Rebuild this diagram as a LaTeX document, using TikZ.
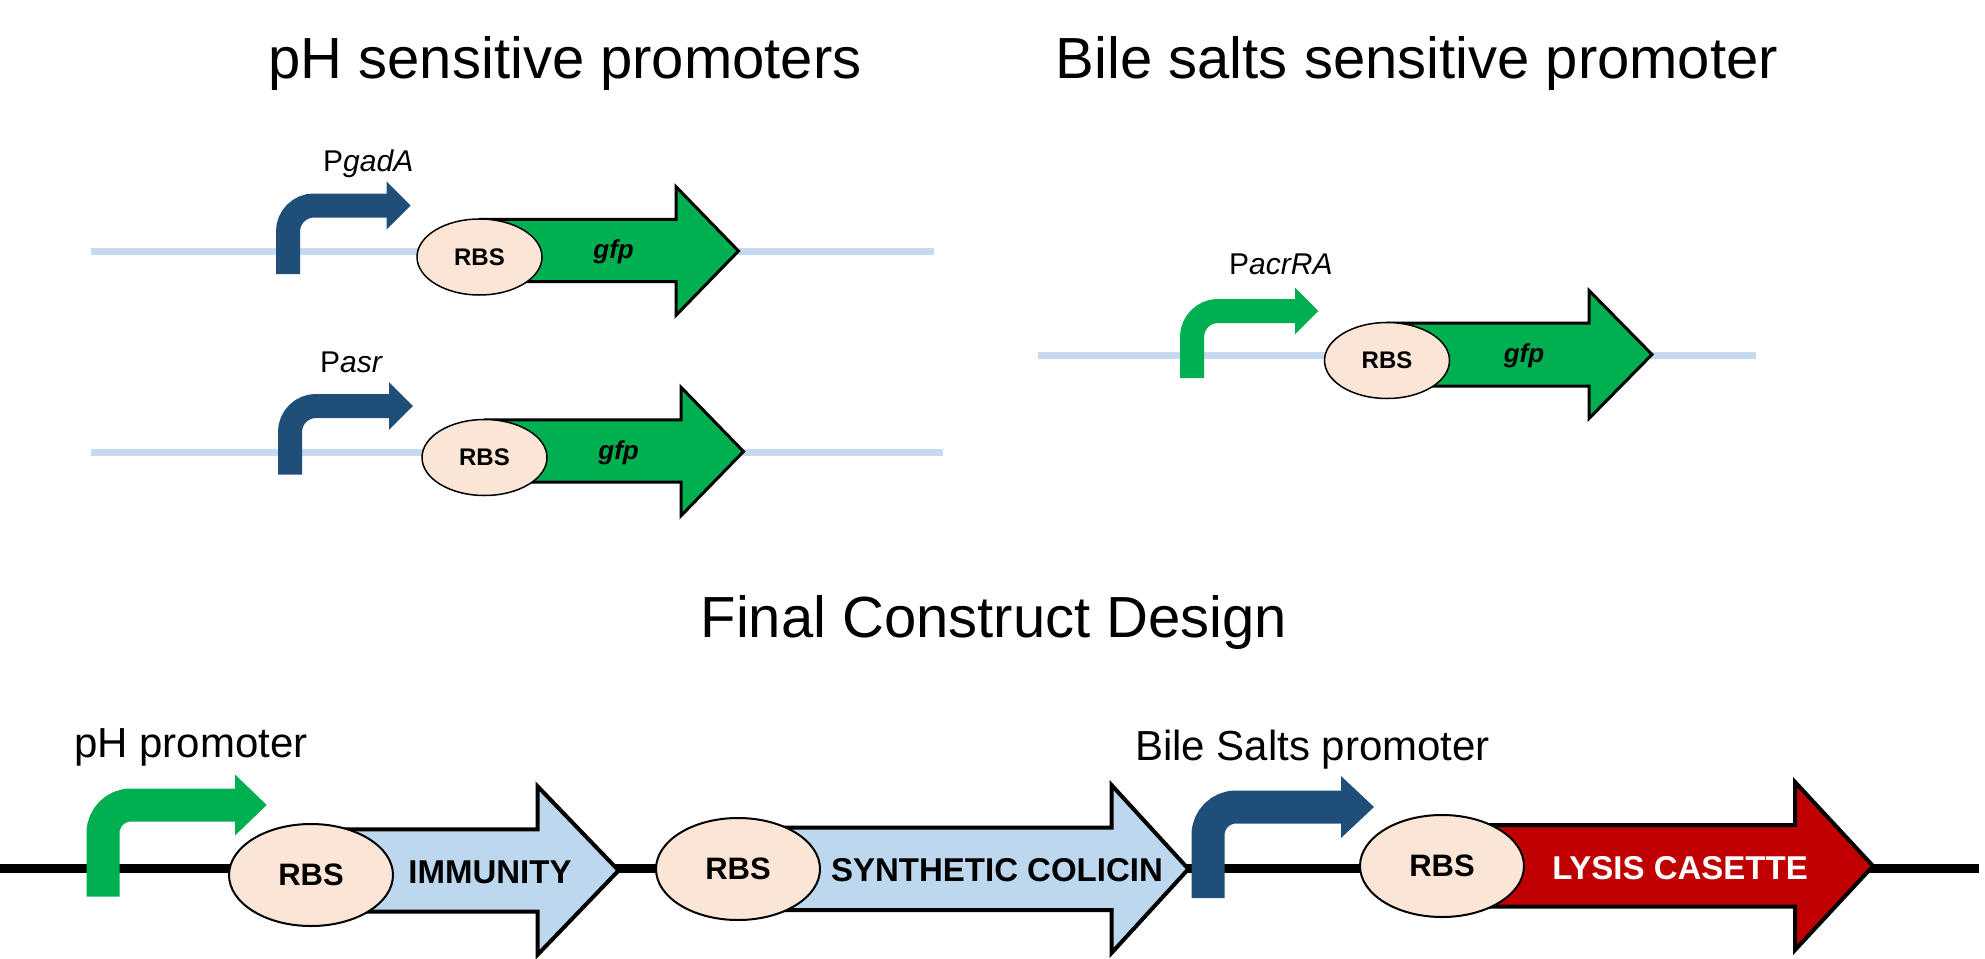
\documentclass[tikz,border=0pt]{standalone}
\usepackage{fontspec}
\setmainfont{Liberation Sans}
\usetikzlibrary{shapes.geometric}
\definecolor{dnablue}{HTML}{C5D9F1}
\definecolor{pdark}{HTML}{1F4E79}
\definecolor{pgreen}{HTML}{00B050}
\definecolor{peach}{HTML}{FBE5D6}
\definecolor{genelight}{HTML}{BDD7EE}
\definecolor{lysisred}{HTML}{C00000}
\tikzset{
  title/.style={font=\fontsize{58}{70}\selectfont, anchor=base, inner sep=0pt},
  lbl/.style={font=\fontsize{30}{36}\selectfont, anchor=base west, inner sep=0pt},
  biglbl/.style={font=\fontsize{42}{50}\selectfont, anchor=base west, inner sep=0pt},
  dna/.style={draw=dnablue, line width=7pt},
  backbone/.style={draw=black, line width=9pt},
  promo/.style={line width=24pt, rounded corners=26pt},
  bigpromo/.style={line width=33pt, rounded corners=28pt},
  gene/.style={draw=black, line width=3pt, line join=miter},
  biggene/.style={draw=black, line width=4pt, line join=miter},
  rbs/.style={ellipse, draw, fill=peach, line width=1.5pt, inner sep=0pt,
    minimum width=125pt, minimum height=76pt, font=\bfseries\fontsize{24}{28}\selectfont},
  bigrbs/.style={rbs, line width=2pt, minimum width=164pt, minimum height=102pt,
    font=\bfseries\fontsize{31}{36}\selectfont},
  gfptxt/.style={font=\bfseries\itshape\fontsize{26}{30}\selectfont, inner sep=0pt},
  genetxt/.style={font=\bfseries\fontsize{33}{40}\selectfont, inner sep=0pt}
}
\begin{document}
\begin{tikzpicture}[x=1pt, y=-1pt]
\useasboundingbox (0,0) rectangle (1985,958);
\node[title] (tph) at (565,78) {pH sensitive promoters};
\node[title] (tbile) at (1417,78) {Bile salts sensitive promoter};
\node[title] (tfinal) at (994,637) {Final Construct Design};

\coordinate (dnaAl) at (91,251.5);
\coordinate (dnaAr) at (934,251.5);
\draw[dna] (dnaAl) -- (dnaAr);
\draw[promo, draw=pdark] (288,274) -- (288,205.5) -- (389,205.5);
\fill[pdark] (386.7,181.7) -- (410.7,205.5) -- (386.7,229.3) -- cycle;
\node[lbl] (pgad) at (323,171.7) {P\textit{gadA}};
\draw[gene, fill=pgreen] (480,219.3) -- (676,219.3) -- (676,186.7) -- (738.5,251) -- (676,315.3) -- (676,281.7) -- (480,281.7) -- cycle;
\node[rbs] (rbsA) at (479.5,257) {RBS};
\node[gfptxt] (gfpA) at (613.6,252) {gfp};

\coordinate (dnaBl) at (91,452);
\coordinate (dnaBr) at (943,452);
\draw[dna] (dnaBl) -- (dnaBr);
\draw[promo, draw=pdark] (290,474.5) -- (290,406) -- (391,406);
\fill[pdark] (389,382.2) -- (413,406) -- (389,429.8) -- cycle;
\node[lbl] (pasr) at (320,372.2) {P\textit{asr}};
\draw[gene, fill=pgreen] (485,419.8) -- (681,419.8) -- (681,387.2) -- (743.5,451.5) -- (681,515.8) -- (681,482.2) -- (485,482.2) -- cycle;
\node[rbs] (rbsB) at (484.5,457.5) {RBS};
\node[gfptxt] (gfpB) at (618.6,452.5) {gfp};

\coordinate (dnaCl) at (1038,355);
\coordinate (dnaCr) at (1756,355);
\draw[dna] (dnaCl) -- (dnaCr);
\draw[promo, draw=pgreen] (1192,378) -- (1192,311) -- (1297,311);
\fill[pgreen] (1295,287.7) -- (1318.3,311) -- (1295,334.3) -- cycle;
\node[lbl] (pacr) at (1229,274.3) {P\textit{acrRA}};
\draw[gene, fill=pgreen] (1387,323) -- (1589,323) -- (1589,290.5) -- (1652,354.5) -- (1589,418.5) -- (1589,386) -- (1387,386) -- cycle;
\node[rbs] (rbsC) at (1387,360.5) {RBS};
\node[gfptxt] (gfpC) at (1524,356) {gfp};

\coordinate (bbl) at (0,868.7);
\coordinate (bbr) at (1979,868.7);
\draw[backbone] (bbl) -- (bbr);
\draw[bigpromo, draw=pgreen] (103,896.7) -- (103,805) -- (237,805);
\fill[pgreen] (235,774.5) -- (266.7,805) -- (235,835.5) -- cycle;
\node[biglbl] (phprom) at (74,757) {pH promoter};
\draw[biggene, fill=genelight] (311,829.3) -- (537.6,829.3) -- (537.6,786.3) -- (618.6,870.5) -- (537.6,954.7) -- (537.6,911.7) -- (311,911.7) -- cycle;
\node[bigrbs] (rbs1) at (311,875) {RBS};
\node[genetxt] (imm) at (490,872) {IMMUNITY};
\draw[biggene, fill=genelight] (738,827.7) -- (1111.5,827.7) -- (1111.5,785) -- (1188.4,869) -- (1111.5,953) -- (1111.5,910) -- (738,910) -- cycle;
\node[bigrbs] (rbs2) at (738,869) {RBS};
\node[genetxt] (col) at (997,870) {SYNTHETIC COLICIN};
\draw[bigpromo, draw=pdark] (1208,898) -- (1208,807) -- (1343,807);
\fill[pdark] (1341,776) -- (1374,807) -- (1341,838) -- cycle;
\node[biglbl] (bileprom) at (1135,760) {Bile Salts promoter};
\draw[biggene, fill=lysisred] (1442,825) -- (1795,825) -- (1795,782) -- (1873,866) -- (1795,950) -- (1795,906.7) -- (1442,906.7) -- cycle;
\node[bigrbs] (rbs3) at (1442,866) {RBS};
\node[genetxt, text=white] (lysis) at (1680,868) {LYSIS CASETTE};
\end{tikzpicture}
\end{document}
